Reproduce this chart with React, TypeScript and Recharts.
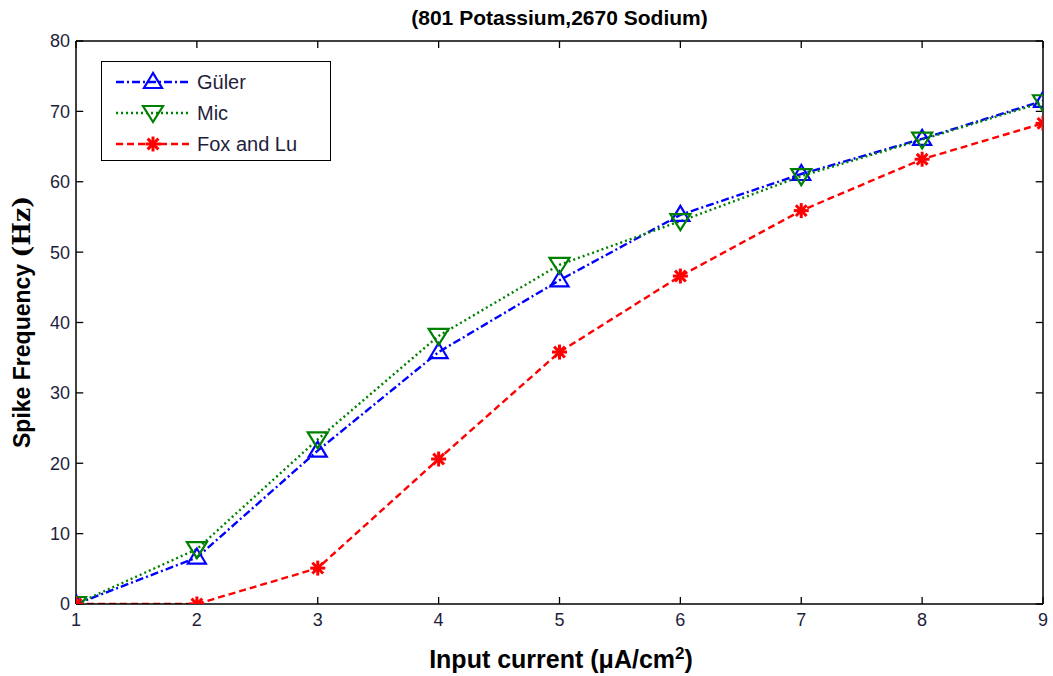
import { LineChart, Line, XAxis, YAxis, ReferenceLine } from 'recharts';

const currents = [1, 2, 3, 4, 5, 6, 7, 8, 9];
const gulerHz = [0, 6.6, 21.8, 35.8, 46, 55.3, 61.1, 66.1, 71.5];
const micHz = [0, 7.8, 23.4, 38.1, 48.2, 54.4, 60.8, 66, 71.3];
const foxLuHz = [0, 0, 5.1, 20.6, 35.8, 46.6, 55.9, 63.2, 68.3];
const xTicks = [1, 2, 3, 4, 5, 6, 7, 8, 9];
const yTicks = [0, 10, 20, 30, 40, 50, 60, 70, 80];

const chartData = currents.map((x, i) => ({
  x,
  guler: gulerHz[i],
  mic: micHz[i],
  fox: foxLuHz[i],
}));

const series = [
  { key: 'guler', name: 'Güler', color: '#0000ff', dash: '8 3 2 3', marker: 'up' },
  { key: 'mic', name: 'Mic', color: '#008000', dash: '2 3', marker: 'down' },
  { key: 'fox', name: 'Fox and Lu', color: '#ff0000', dash: '7 4', marker: 'star' },
];

const FONT = '"Liberation Sans Narrow", "Liberation Sans", Arial, sans-serif';
const TICK_COLOR = '#1e1e3c';
// inner tick length, in data units (about 7px)
const TICK_DX = 0.06;
const TICK_DY = 1;

function Marker({ type, cx, cy, color }: { type: string; cx: number; cy: number; color: string }) {
  if (type === 'up') {
    return (
      <polygon
        points={`${cx},${cy - 9} ${cx - 9},${cy + 6} ${cx + 9},${cy + 6}`}
        fill="none"
        stroke={color}
        strokeWidth={2.2}
      />
    );
  }
  if (type === 'down') {
    return (
      <polygon
        points={`${cx - 10},${cy - 7} ${cx + 10},${cy - 7} ${cx},${cy + 9}`}
        fill="none"
        stroke={color}
        strokeWidth={2.2}
      />
    );
  }
  const r = 7.5;
  const d = r * 0.72;
  return (
    <g stroke={color} strokeWidth={3}>
      <line x1={cx - r} y1={cy} x2={cx + r} y2={cy} />
      <line x1={cx} y1={cy - r} x2={cx} y2={cy + r} />
      <line x1={cx - d} y1={cy - d} x2={cx + d} y2={cy + d} />
      <line x1={cx - d} y1={cy + d} x2={cx + d} y2={cy - d} />
    </g>
  );
}

function LegendBox() {
  return (
    <div
      style={{
        position: 'absolute',
        left: 101,
        top: 61,
        width: 228,
        height: 98,
        border: '1.5px solid #000',
        background: '#fff',
      }}
    >
      <svg width={228} height={98}>
        {series.map((s, i) => {
          const y = 20 + i * 31;
          return (
            <g key={s.key}>
              <line x1={14} x2={87} y1={y} y2={y} stroke={s.color} strokeWidth={2.4} strokeDasharray={s.dash} />
              <Marker type={s.marker} cx={51} cy={y} color={s.color} />
              <text x={95} y={y} dy="0.36em" fontFamily={FONT} fontSize={20} fill={TICK_COLOR}>
                {s.name}
              </text>
            </g>
          );
        })}
      </svg>
    </div>
  );
}

export default function App() {
  const xMin = xTicks[0];
  const xMax = xTicks[xTicks.length - 1];
  const yMin = yTicks[0];
  const yMax = yTicks[yTicks.length - 1];
  const tickStyle = { stroke: '#000', strokeWidth: 1.3 };
  return (
    <div style={{ position: 'absolute', left: 0, top: 0, width: 1053, height: 676, background: '#fff' }}>
      <LineChart
        width={1053}
        height={676}
        data={chartData}
        margin={{ top: 41, right: 10, bottom: 42, left: 36 }}
      >
        <text
          x={559.5}
          y={17}
          dy="0.36em"
          textAnchor="middle"
          fontFamily={FONT}
          fontWeight="bold"
          fontSize={21}
          fill="#000"
        >
          (801 Potassium,2670 Sodium)
        </text>
        <text
          x={561}
          y={659}
          dy="0.36em"
          textAnchor="middle"
          fontFamily={FONT}
          fontWeight="bold"
          fontSize={25}
          fill="#000"
        >
          Input current (μA/cm
          <tspan dy={-9} fontSize={17}>2</tspan>
          <tspan dy={9}>)</tspan>
        </text>
        <text
          transform="translate(22, 322) rotate(-90)"
          x={0}
          y={0}
          dy="0.36em"
          textAnchor="middle"
          fontFamily={FONT}
          fontWeight="bold"
          fontSize={23}
          fill="#000"
        >
          Spike Frequency <tspan fontFamily='"DejaVu Serif", "Liberation Serif", serif' fontSize={25}>(Hz)</tspan>
        </text>
        <XAxis
          dataKey="x"
          type="number"
          domain={[xMin, xMax]}
          ticks={xTicks}
          allowDataOverflow
          height={30}
          tickSize={0}
          tickMargin={9}
          tickLine={false}
          tick={{ fontFamily: FONT, fontSize: 18, fill: TICK_COLOR }}
          axisLine={{ stroke: '#000', strokeWidth: 1.5 }}
        />
        <YAxis
          type="number"
          domain={[yMin, yMax]}
          ticks={yTicks}
          allowDataOverflow
          width={40}
          tickSize={0}
          tickMargin={6}
          tickLine={false}
          tick={{ fontFamily: FONT, fontSize: 18, fill: TICK_COLOR }}
          axisLine={{ stroke: '#000', strokeWidth: 1.5 }}
        />
        <ReferenceLine y={yMax} ifOverflow="visible" stroke="#000" strokeWidth={1.5} />
        <ReferenceLine x={xMax} ifOverflow="visible" stroke="#000" strokeWidth={1.5} />
        {xTicks.map((t) => (
          <ReferenceLine
            key={`xb-${t}`}
            segment={[{ x: t, y: yMin }, { x: t, y: yMin + TICK_DY }]}
            ifOverflow="visible"
            {...tickStyle}
          />
        ))}
        {xTicks.map((t) => (
          <ReferenceLine
            key={`xt-${t}`}
            segment={[{ x: t, y: yMax }, { x: t, y: yMax - TICK_DY }]}
            ifOverflow="visible"
            {...tickStyle}
          />
        ))}
        {yTicks.map((t) => (
          <ReferenceLine
            key={`yl-${t}`}
            segment={[{ x: xMin, y: t }, { x: xMin + TICK_DX, y: t }]}
            ifOverflow="visible"
            {...tickStyle}
          />
        ))}
        {yTicks.map((t) => (
          <ReferenceLine
            key={`yr-${t}`}
            segment={[{ x: xMax, y: t }, { x: xMax - TICK_DX, y: t }]}
            ifOverflow="visible"
            {...tickStyle}
          />
        ))}
        {series.map((s) => (
          <Line
            key={s.key}
            type="linear"
            dataKey={s.key}
            name={s.name}
            stroke={s.color}
            strokeWidth={2.4}
            strokeDasharray={s.dash}
            isAnimationActive={false}
            dot={(p: any) => <Marker key={`${s.key}-${p.index}`} type={s.marker} cx={p.cx} cy={p.cy} color={s.color} />}
            activeDot={false}
          />
        ))}
      </LineChart>
      <LegendBox />
    </div>
  );
}
